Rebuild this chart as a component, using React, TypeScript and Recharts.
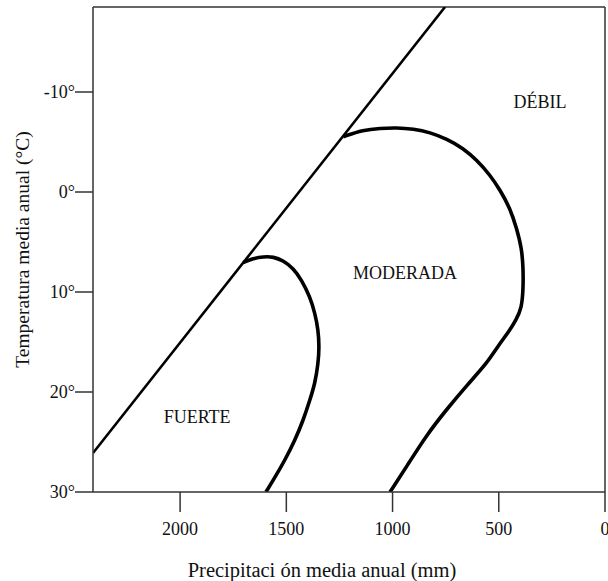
import { LineChart, Line, XAxis, YAxis, ReferenceLine, ReferenceDot, Label } from "recharts";

// precipitación (mm) y temperatura (°C)
const limitMm = [2410, 753];
const limitT = [26.1, -18.5];

const fuerteMm = [
  1703, 1656, 1608, 1561, 1514, 1467, 1428, 1389, 1365, 1350, 1345, 1350, 1365, 1389, 1420, 1459,
  1506, 1561, 1596,
];
const fuerteT = [
  7.07, 6.63, 6.47, 6.47, 6.87, 7.63, 8.8, 10.47, 12.13, 13.8, 15.47, 17.13, 19.13, 20.8, 22.8, 24.8,
  26.8, 28.8, 30,
];

const moderadaMm = [
  1232, 1138, 1059, 981, 902, 824, 745, 667, 604, 541, 494, 447, 416, 392, 385, 385, 392, 419, 447,
  504, 555, 645, 748, 843, 923, 1012,
];
const moderadaT = [
  -5.53, -6.2, -6.37, -6.43, -6.3, -5.97, -5.3, -4.37, -3.2, -1.7, -0.2, 1.63, 3.63, 5.63, 7.63, 9.63,
  11.63, 12.8, 13.8, 15.4, 17.1, 19.2, 21.8, 24.4, 27.1, 30,
];

const regionNames = ["FUERTE", "MODERADA", "DÉBIL"];
const regionMm = [1920, 941, 306];
const regionT = [22.5, 8.1, -9.0];

const xTicks = [2000, 1500, 1000, 500, 0];
const yTicks = [-10, 0, 10, 20, 30];

const X_DOMAIN: [number, number] = [0, 2410];
const Y_DOMAIN: [number, number] = [-18.5, 30];

const FONT = "'Liberation Serif', 'Times New Roman', serif";
const AXIS_COLOR = "#333";

const toPoints = (mm: number[], t: number[]) => mm.map((x, i) => ({ x, t: t[i] }));

const limitData = toPoints(limitMm, limitT);
const fuerteData = toPoints(fuerteMm, fuerteT);
const moderadaData = toPoints(moderadaMm, moderadaT);

export default function App() {
  return (
    <div style={{ position: "absolute", left: 0, top: 0, background: "#fff" }}>
      <LineChart width={608} height={581} margin={{ top: 7, right: 3, bottom: 0, left: 0 }}>
        <XAxis
          dataKey="x"
          type="number"
          domain={X_DOMAIN}
          allowDataOverflow
          reversed
          ticks={xTicks}
          interval={0}
          height={89}
          tickSize={20}
          tickMargin={10}
          axisLine={{ stroke: AXIS_COLOR, strokeWidth: 1.5 }}
          tickLine={{ stroke: AXIS_COLOR, strokeWidth: 1.5 }}
          tick={{ fill: "#111", fontSize: 18, fontFamily: FONT }}
        >
          <Label
            content={({ viewBox }: any) => (
              <text
                x={viewBox.x + viewBox.width / 2 - 27}
                y={viewBox.y + 85}
                textAnchor="middle"
                fontSize={20.5}
                fontFamily={FONT}
                fill="#111"
              >
                Precipitaci ón media anual (mm)
              </text>
            )}
          />
        </XAxis>
        <YAxis
          dataKey="t"
          type="number"
          domain={Y_DOMAIN}
          allowDataOverflow
          reversed
          ticks={yTicks}
          interval={0}
          width={93}
          tickSize={18}
          tickMargin={0}
          tickFormatter={(v) => `${v}°`}
          axisLine={{ stroke: AXIS_COLOR, strokeWidth: 1.5 }}
          tickLine={{ stroke: AXIS_COLOR, strokeWidth: 1.5 }}
          tick={{ fill: "#111", fontSize: 18, fontFamily: FONT }}
        >
          <Label
            content={({ viewBox }: any) => {
              const cx = 22;
              const cy = viewBox.y + viewBox.height / 2;
              return (
                <text
                  x={cx}
                  y={cy}
                  transform={`rotate(-90, ${cx}, ${cy})`}
                  textAnchor="middle"
                  dominantBaseline="central"
                  fontSize={19.5}
                  fontFamily={FONT}
                  fill="#111"
                >
                  Temperatura media anual (°C)
                </text>
              );
            }}
          />
        </YAxis>
        <ReferenceLine y={Y_DOMAIN[0]} stroke={AXIS_COLOR} strokeWidth={1.5} ifOverflow="visible" />
        <ReferenceLine x={X_DOMAIN[0]} stroke={AXIS_COLOR} strokeWidth={1.5} ifOverflow="visible" />
        <Line
          data={limitData}
          dataKey="t"
          type="linear"
          stroke="#000"
          strokeWidth={2.6}
          dot={false}
          activeDot={false}
          isAnimationActive={false}
        />
        <Line
          data={fuerteData}
          dataKey="t"
          type="basis"
          stroke="#000"
          strokeWidth={3.6}
          dot={false}
          activeDot={false}
          isAnimationActive={false}
        />
        <Line
          data={moderadaData}
          dataKey="t"
          type="basis"
          stroke="#000"
          strokeWidth={3.6}
          dot={false}
          activeDot={false}
          isAnimationActive={false}
        />
        {regionNames.map((name, i) => (
          <ReferenceDot
            key={name}
            x={regionMm[i]}
            y={regionT[i]}
            r={1}
            fill="none"
            stroke="none"
            label={{ value: name, position: "center", fontSize: 18, fontFamily: FONT, fill: "#111" }}
          />
        ))}
      </LineChart>
    </div>
  );
}
